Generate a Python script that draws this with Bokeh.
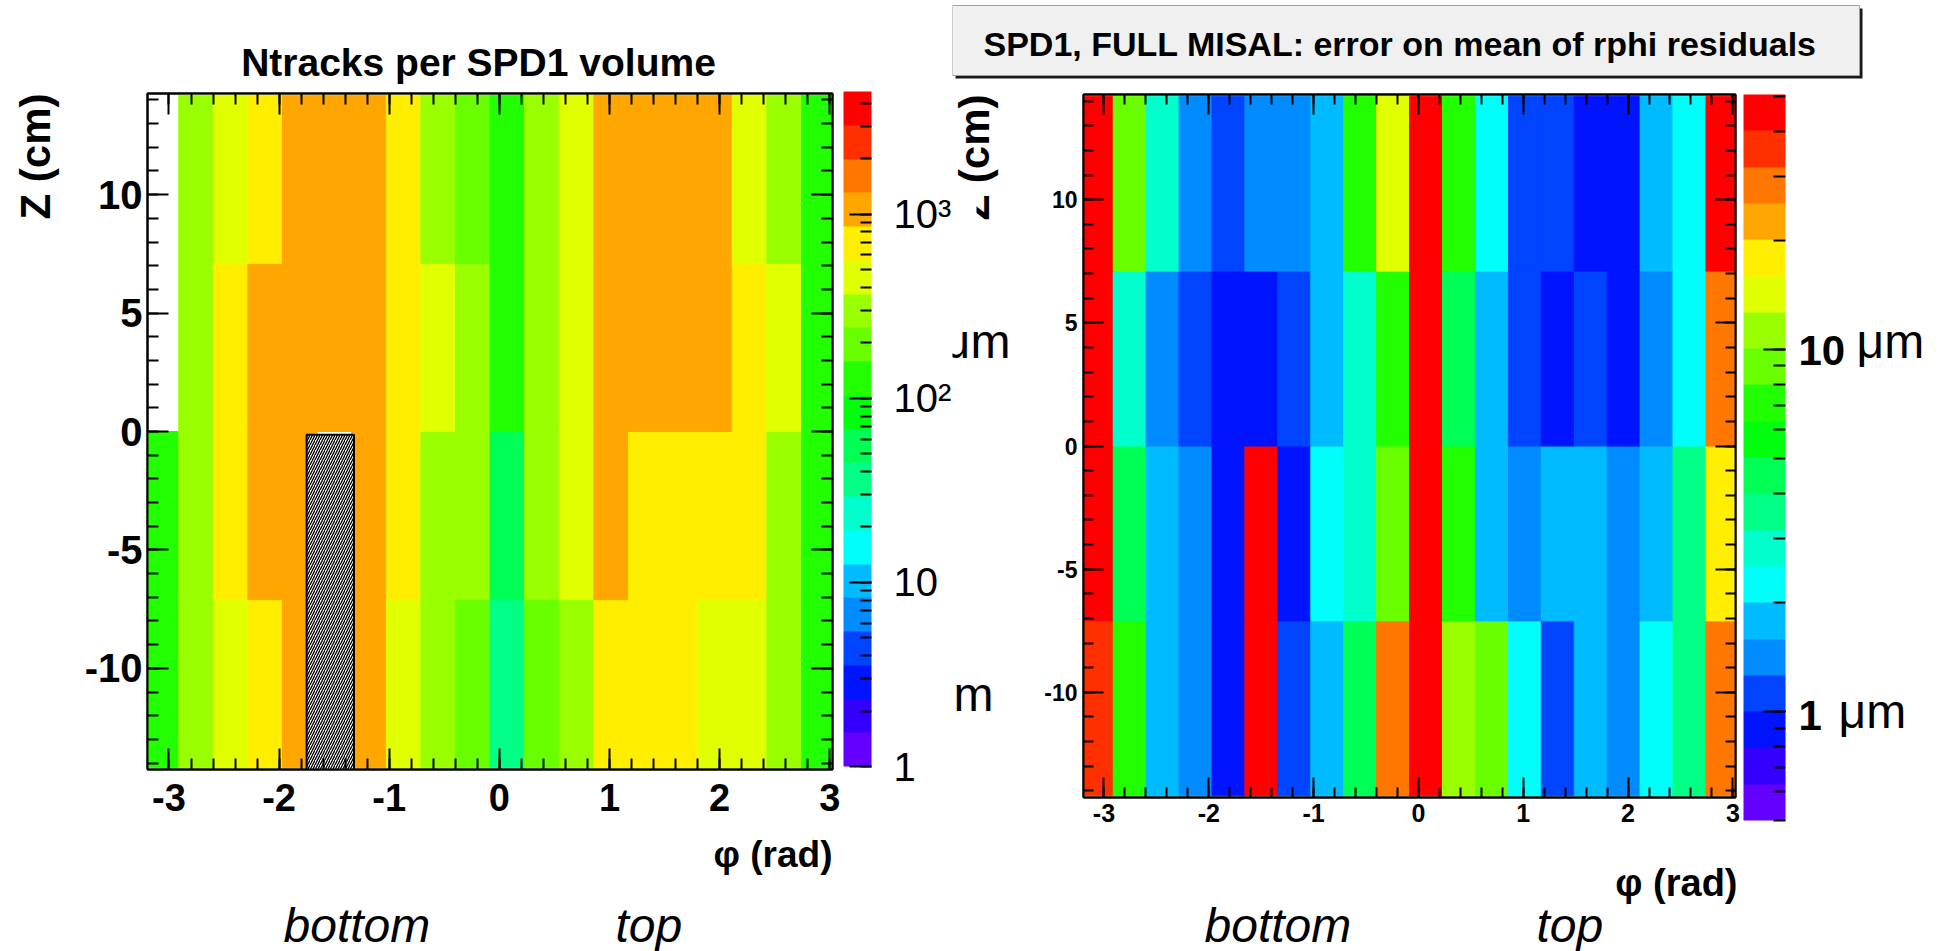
import math
from bokeh.plotting import figure
from bokeh.models import (ColumnDataSource, LogColorMapper, ColorBar, LogTicker,
                          BasicTickFormatter, PrintfTickFormatter, SingleIntervalTicker,
                          LinearAxis, Range1d)
from bokeh.core.properties import value
from bokeh.transform import transform
from bokeh.layouts import row, column
from bokeh.embed import file_html
from bokeh.resources import INLINE

# ---------------- data ----------------
# phi bin centres (rad) of the 20 SPD1 ladders, bin width 2*pi/20
PHI_CENTERS = [-3.069, -2.754, -2.440, -2.126, -1.812, -1.498, -1.184, -0.869,
               -0.555, -0.241, 0.073, 0.387, 0.701, 1.016, 1.330, 1.644,
               1.958, 2.272, 2.586, 2.901]
PHI_WIDTH = 0.3142
# z bin centres (cm), bin height 7.1 cm
Z_CENTERS = [-10.65, -3.55, 3.55, 10.65]
Z_HEIGHT = 7.1

# Ntracks per SPD1 volume, one row per z bin (bottom -> top); None = empty
NTRACKS = [
    [128, 300, 455, 700, 1060, None, 1060, 455, 300, 195, 36, 195, 300, 700, 700, 700, 455, 455, 300, 128],
    [128, 300, 700, 1060, 1060, None, 1060, 700, 300, 300, 55, 300, 455, 1060, 700, 700, 700, 700, 300, 128],
    [None, 300, 700, 1060, 1060, 1060, 1060, 700, 455, 300, 128, 300, 455, 1060, 1060, 1060, 1060, 700, 455, 128],
    [None, 300, 455, 700, 1060, 1060, 1060, 700, 300, 195, 128, 300, 455, 1060, 1060, 1060, 1060, 455, 300, 128],
]
# error on mean of rphi residuals (um), one row per z bin (bottom -> top)
ERR_UM = [
    [35.5, 7.1, 1.78, 1.41, 0.89, 44.7, 1.12, 1.78, 4.47, 28.2, 44.7, 11.2, 8.9, 2.24, 1.12, 1.78, 1.41, 2.24, 3.55, 28.2],
    [44.7, 4.47, 1.78, 1.41, 0.89, 44.7, 0.89, 2.24, 2.82, 8.9, 44.7, 7.1, 1.78, 1.41, 1.78, 1.78, 1.41, 1.78, 3.55, 17.8],
    [44.7, 2.82, 1.41, 1.12, 0.89, 0.89, 1.12, 1.78, 2.82, 7.1, 44.7, 4.47, 1.78, 1.12, 0.89, 1.12, 0.89, 1.41, 2.24, 28.2],
    [44.7, 8.9, 2.82, 1.41, 1.12, 1.41, 1.41, 1.78, 7.1, 14.1, 44.7, 7.1, 2.24, 1.12, 1.12, 0.89, 0.89, 1.78, 2.24, 44.7],
]
# dead half-stave region marked with a hatched box (phi, z)
DEAD_ZONE = dict(left=[-1.75], right=[-1.32], bottom=[-14.4], top=[-0.14])

PHI_RANGE = (-3.195, 3.025)
Z_RANGE = (-14.27, 14.27)
NTRACKS_RANGE = (1.0, 4630.0)
ERR_RANGE = (0.5, 50.5)
NTRACKS_TICK_LABELS = {1: "1", 10: "10", 100: "10\u00b2", 1000: "10\u00b3"}
ERR_LABELS = ["10", "1"]

# ROOT "pretty" palette, 20 contour levels
PALETTE = ["#6300ff", "#3300ff", "#0014ff", "#0044ff", "#008bff", "#00bbff",
           "#00fffb", "#00ffcc", "#00ff85", "#00ff55", "#00ff0e", "#22ff00",
           "#69ff00", "#99ff00", "#e0ff00", "#ffee00", "#ffa700", "#ff7700",
           "#ff3000", "#ff0000"]

FONT = "Liberation Sans"
BASELINE_FIX = 0.29   # em: correction for where the renderer puts the alphabetic baseline


def cells(grid):
    xs, zs, vs = [], [], []
    for zi, rowvals in enumerate(grid):
        for pi_, v in enumerate(rowvals):
            if v is None:
                continue
            xs.append(PHI_CENTERS[pi_])
            zs.append(Z_CENTERS[zi])
            vs.append(v)
    return ColumnDataSource(dict(phi=xs, z=zs, val=vs))


def axis(ticker, size, show, standoff, tin, tmin):
    return LinearAxis(ticker=ticker, formatter=PrintfTickFormatter(format="%d"),
                      axis_line_color="black", axis_line_width=2,
                      major_tick_in=tin, major_tick_out=0, minor_tick_in=tmin, minor_tick_out=0,
                      major_tick_line_color="black", minor_tick_line_color="black",
                      major_tick_line_width=2, minor_tick_line_width=2,
                      major_label_standoff=standoff,
                      major_label_text_font=FONT, major_label_text_font_style="bold",
                      major_label_text_font_size=size,
                      major_label_text_color="black" if show else None)


def heat(width, height, border, grid, mapper, xsize, ysize, xstand, ystand, tin, tmin):
    p = figure(width=width, height=height, x_range=Range1d(*PHI_RANGE), y_range=Range1d(*Z_RANGE),
               x_axis_type=None, y_axis_type=None, output_backend="svg", toolbar_location=None,
               min_border_left=border[0], min_border_right=border[1],
               min_border_top=border[2], min_border_bottom=border[3], frame_align=False)
    p.outline_line_color = "black"
    p.outline_line_width = 2
    p.background_fill_color = "white"
    p.border_fill_color = "white"
    src = cells(grid)
    p.rect(x="phi", y="z", width=PHI_WIDTH, height=Z_HEIGHT, source=src,
           fill_color=transform("val", mapper), line_color=transform("val", mapper), line_width=1)
    p.add_layout(axis(SingleIntervalTicker(interval=1, num_minor_ticks=5), xsize, True, xstand, tin, tmin), "below")
    p.add_layout(axis(SingleIntervalTicker(interval=1, num_minor_ticks=5), "1px", False, 0, tin, tmin), "above")
    p.add_layout(axis(SingleIntervalTicker(interval=5, num_minor_ticks=5), ysize, True, ystand, tin, tmin), "left")
    p.add_layout(axis(SingleIntervalTicker(interval=5, num_minor_ticks=5), "1px", False, 0, tin, tmin), "right")
    return p


def cbar(p, mapper, loc, w, h, labels, size, show, standoff, tin, tmin):
    cb = ColorBar(color_mapper=mapper, ticker=LogTicker(num_minor_ticks=10),
                  formatter=BasicTickFormatter(), major_label_overrides=labels,
                  location=loc, width=w, height=h, padding=0, margin=0,
                  label_standoff=standoff, major_label_text_font=FONT,
                  major_label_text_font_size=size, major_label_text_font_style="normal",
                  major_label_text_color="black" if show else None,
                  major_tick_in=tin, major_tick_out=0, minor_tick_in=tmin, minor_tick_out=0,
                  major_tick_line_color="black", minor_tick_line_color="black",
                  major_tick_line_width=2, minor_tick_line_width=2,
                  bar_line_color=None, background_fill_color=None, border_line_color=None)
    p.add_layout(cb)


def text_fig(x0, y0, w, h):
    """A plain drawing area whose data coordinates are page pixels (y = -row)."""
    f = figure(width=w, height=h, x_range=Range1d(x0, x0 + w), y_range=Range1d(-(y0 + h), -y0),
               x_axis_type=None, y_axis_type=None, output_backend="svg", toolbar_location=None,
               min_border=0, min_border_left=0, min_border_right=0, min_border_top=0,
               min_border_bottom=0, frame_align=False)
    f.outline_line_color = None
    f.background_fill_color = "white"
    f.border_fill_color = "white"
    return f


def txt(f, x, y, text, size, style="bold", align="left", angle=0.0, font=FONT):
    px = float(size.replace("px", ""))
    d = BASELINE_FIX * px
    x = x - d * math.sin(angle)
    y = y - d * math.cos(angle)
    f.text(x=[x], y=[-y], text=[text], text_font=value(font), text_font_size=value(size),
           text_font_style=style, text_align=align, text_baseline="alphabetic",
           angle=angle, text_color="black")


# ---------------- left: Ntracks ----------------
map1 = LogColorMapper(palette=PALETTE, low=NTRACKS_RANGE[0], high=NTRACKS_RANGE[1])
a_heat = heat(882, 745, (77, 120, 8, 61), NTRACKS, map1, "38px", "40px", 14, 5, 21, 11)
a_heat.quad(source=ColumnDataSource(DEAD_ZONE), left="left", right="right", bottom="bottom", top="top",
            fill_color="white", hatch_pattern="/", hatch_color="black", hatch_scale=5, hatch_weight=1.3,
            line_color="black", line_width=2)
cbar(a_heat, map1, (696, 3), 28, 675, NTRACKS_TICK_LABELS, "40px", True, 22, 22, 11)

a_top = text_fig(0, 0, 952, 85)
txt(a_top, 478, 73, "Ntracks per SPD1 volume", "39px", align="center")
a_z = text_fig(0, 85, 70, 745)
txt(a_z, 47, 93, "Z (cm)", "42px", align="right", angle=math.pi / 2)
a_bot = text_fig(0, 830, 952, 121)
txt(a_bot, 832, 865, "\u03c6 (rad)", "37px", align="right")
txt(a_bot, 283, 939, "bottom", "48px", style="italic")
txt(a_bot, 615, 939, "top", "48px", style="italic")

left = column(a_top, row(a_z, a_heat), a_bot)

# ---------------- right: error on mean ----------------
map2 = LogColorMapper(palette=PALETTE, low=ERR_RANGE[0], high=ERR_RANGE[1])
b_heat = heat(780, 755, (73, 55, 9, 43), ERR_UM, map2, "25px", "23px", 6, 6, 20, 10)
cbar(b_heat, map2, (660, -23), 42, 726, {}, "10px", False, 13, 22, 12)

b_top = text_fig(952, 0, 996, 85)
b_top.quad(left=[955], right=[1862], top=[-8], bottom=[-78], fill_color="#1a1a1a", line_color=None)
b_top.quad(left=[952], right=[1859], top=[-5], bottom=[-75], fill_color="#f0f0f0",
           line_color="#a0a0a0", line_width=1)
txt(b_top, 983, 53, "SPD1, FULL MISAL: error on mean of rphi residuals", "34px")

b_z = text_fig(952, 85, 58, 755)
txt(b_z, 986, 94, "Z (cm)", "42px", align="right", angle=math.pi / 2)
b_z.quad(left=[952], right=[976], top=[-186], bottom=[-228], fill_color="white", line_color=None)
txt(b_z, 1010, 355, "\u03bcm", "48px", style="normal", align="right")
txt(b_z, 993, 708, "\u03bcm", "48px", style="normal", align="right")

b_cbt = text_fig(1790, 85, 158, 755)
txt(b_cbt, 1798, 362, ERR_LABELS[0], "42px")
txt(b_cbt, 1856, 355, "\u03bcm", "48px", style="normal")
txt(b_cbt, 1798, 727, ERR_LABELS[1], "42px")
txt(b_cbt, 1838, 725, "\u03bcm", "48px", style="normal")

b_bot = text_fig(952, 840, 996, 111)
txt(b_bot, 1737, 894, "\u03c6 (rad)", "38px", align="right")
txt(b_bot, 1204, 939, "bottom", "48px", style="italic")
txt(b_bot, 1536, 939, "top", "48px", style="italic")

right = column(b_top, row(b_z, b_heat, b_cbt), b_bot)

layout = row(left, right)
open("out.html", "w").write(file_html(layout, INLINE))
